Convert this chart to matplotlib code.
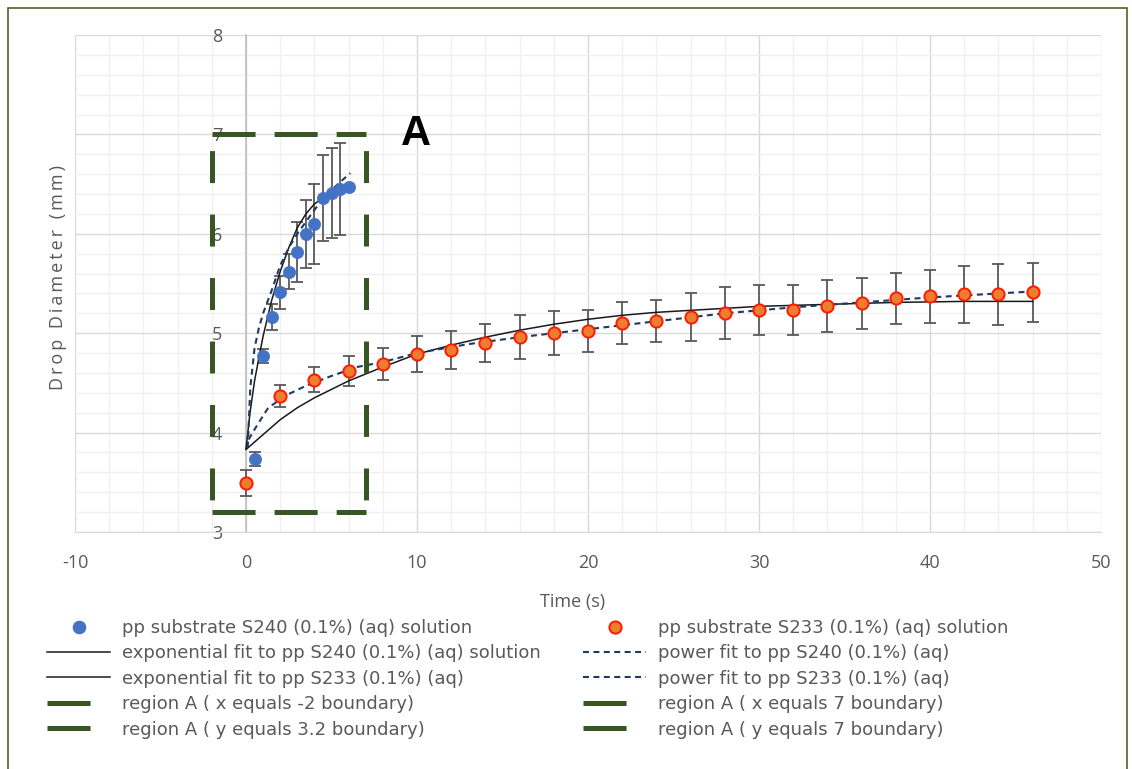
import matplotlib
matplotlib.use("Agg")
import matplotlib.pyplot as plt
from matplotlib.ticker import MultipleLocator
from matplotlib.lines import Line2D
from matplotlib.patches import Rectangle

plt.rcParams['font.family'] = ['Open Sans', 'DejaVu Sans']
plt.rcParams['lines.scale_dashes'] = False
plt.rcParams['axes.unicode_minus'] = False

# ---- measured drop diameters -------------------------------------------
time_s240 = [0.5, 1.0, 1.5, 2.0, 2.5, 3.0, 3.5, 4.0, 4.5, 5.0, 5.5, 6.0]
diam_s240 = [3.73, 4.77, 5.16, 5.41, 5.62, 5.82, 6.00, 6.10, 6.36, 6.41, 6.45, 6.47]
err_s240 = [0.07, 0.07, 0.13, 0.17, 0.18, 0.30, 0.34, 0.40, 0.43, 0.45, 0.46, 0.0]

time_s233 = [0, 2, 4, 6, 8, 10, 12, 14, 16, 18, 20, 22,
             24, 26, 28, 30, 32, 34, 36, 38, 40, 42, 44, 46]
diam_s233 = [3.49, 4.37, 4.53, 4.62, 4.69, 4.79, 4.83, 4.905, 4.96, 5.005, 5.02, 5.105,
             5.12, 5.16, 5.20, 5.233, 5.233, 5.277, 5.30, 5.35, 5.37, 5.39, 5.39, 5.41]
err_s233 = [0.13, 0.11, 0.125, 0.15, 0.16, 0.18, 0.19, 0.19, 0.22, 0.22, 0.21, 0.21,
            0.21, 0.24, 0.26, 0.25, 0.25, 0.26, 0.255, 0.26, 0.27, 0.29, 0.31, 0.30]

# ---- fitted curves ------------------------------------------------------
exp_s240_t = [0, 0.25, 0.5, 0.75, 1.0, 1.5, 2.0, 2.5, 3.0, 3.5, 4.0, 5.0, 6.0]
exp_s240_d = [3.84, 4.22, 4.52, 4.75, 4.97, 5.33, 5.62, 5.86, 6.06, 6.20, 6.30, 6.42, 6.50]

pow_s240_t = [0.1, 0.25, 0.5, 0.75, 1.0, 1.5, 2.0, 2.5, 3.0, 3.5, 4.0, 4.5, 5.0, 5.5, 6.1]
pow_s240_d = [3.85, 4.45, 4.85, 5.05, 5.20, 5.43, 5.68, 5.86, 6.00, 6.12, 6.24, 6.35, 6.44, 6.52, 6.61]

exp_s233_t = [0, 1, 2, 3, 4, 6, 8, 10, 12, 14, 16, 18, 20, 22, 24, 26, 28, 30, 34, 38, 42, 46]
exp_s233_d = [3.83, 3.98, 4.13, 4.25, 4.35, 4.52, 4.66, 4.79, 4.88, 4.96, 5.03, 5.09,
              5.14, 5.18, 5.21, 5.23, 5.25, 5.27, 5.29, 5.31, 5.32, 5.32]

pow_s233_t = [0.15, 0.6, 1.3, 2.4, 3.5, 5, 6.5, 8, 10, 13, 16, 20, 24, 28, 32, 36, 40, 46]
pow_s233_d = [3.93, 4.06, 4.25, 4.38, 4.47, 4.57, 4.66, 4.71, 4.80, 4.89, 4.96, 5.04,
              5.12, 5.20, 5.26, 5.31, 5.36, 5.42]

# ---- region A boundaries ------------------------------------------------
region_x = [-2, 7]
region_y = [3.2, 7]

labels = [
    "pp substrate S240 (0.1%) (aq) solution",
    "pp substrate S233 (0.1%) (aq) solution",
    "exponential fit to pp S240 (0.1%) (aq) solution",
    "power fit to pp S240 (0.1%) (aq)",
    "exponential fit to pp S233 (0.1%) (aq)",
    "power fit to pp S233 (0.1%) (aq)",
    "region A ( x equals -2 boundary)",
    "region A ( x equals 7 boundary)",
    "region A ( y equals 3.2 boundary)",
    "region A ( y equals 7 boundary)",
]
x_title = "Time (s)"
y_title = "Drop Diameter (mm)"

TEXT = '#595959'
BLUE = '#4472C4'
ORANGE = '#ED7D31'
RED_EDGE = '#FF1A00'
NAVY = '#203864'
GREEN = '#375623'
FIT_BLACK = '#1A1A1A'
W, H = 1132, 769
FS = 13


def spaced(s, gap='\u2009'):
    """Open up the letter spacing of a piece of text."""
    return gap.join(s)


fig = plt.figure(figsize=(W / 100, H / 100), dpi=100)
ax = fig.add_axes([75 / W, 1 - 532 / H, (1101 - 75) / W, (532 - 35) / H])
ax.set_xlim(-10, 50)
ax.set_ylim(3, 8)

ax.xaxis.set_major_locator(MultipleLocator(10))
ax.xaxis.set_minor_locator(MultipleLocator(2))
ax.yaxis.set_major_locator(MultipleLocator(1))
ax.yaxis.set_minor_locator(MultipleLocator(0.2))
ax.grid(which='minor', color='#F0F0F0', lw=1.0, zorder=0)
ax.grid(which='major', color='#D9D9D9', lw=1.0, zorder=0)
ax.set_axisbelow(True)

for s in ('top', 'right'):
    ax.spines[s].set_visible(False)
ax.spines['left'].set_position(('data', 0))
ax.spines['left'].set_color('#BFBFBF')
ax.spines['left'].set_linewidth(1.2)
ax.spines['bottom'].set_color('#D9D9D9')
ax.tick_params(which='both', length=0, colors=TEXT, labelsize=FS,
               labelfontfamily='Open Sans')
ax.tick_params(axis='x', pad=16)
ax.tick_params(axis='y', pad=17)

# error bars
ebar_kw = dict(fmt='none', ecolor='#595959', elinewidth=1.3, capsize=4.6,
               capthick=1.3, zorder=3)
ax.errorbar(time_s240, diam_s240, yerr=err_s240, **ebar_kw)
ax.errorbar(time_s233, diam_s233, yerr=err_s233, **ebar_kw)

# fitted curves
dash_fit = (0, (4.3, 3.2))
ax.plot(exp_s240_t, exp_s240_d, color=FIT_BLACK, lw=1.1, zorder=4)
ax.plot(pow_s240_t, pow_s240_d, color=NAVY, lw=1.5, ls=dash_fit, zorder=4)
ax.plot(exp_s233_t, exp_s233_d, color=FIT_BLACK, lw=1.1, zorder=4)
ax.plot(pow_s233_t, pow_s233_d, color=NAVY, lw=1.5, ls=dash_fit, zorder=4)

# measured points
ax.plot(time_s240, diam_s240, 'o', ms=8.8, mfc=BLUE, mec=BLUE, mew=0.5, zorder=5)
ax.plot(time_s233, diam_s233, 'o', ms=8.8, mfc=ORANGE, mec=RED_EDGE, mew=1.4, zorder=5)

# region A rectangle
vert_ls = (37, (23, 22.7))
horz_ls = (0, (31, 13.7))
for xv in region_x:
    ax.plot([xv, xv], region_y, color=GREEN, lw=3.6, ls=vert_ls,
            dash_capstyle='butt', zorder=6)
for yv in region_y:
    ax.plot(region_x, [yv, yv], color=GREEN, lw=3.6, ls=horz_ls,
            dash_capstyle='butt', zorder=6)

ax.text(9.95, 7.0, 'A', fontsize=30, fontweight='bold', color='black',
        family='Liberation Sans', ha='center', va='center', zorder=7)

fig.text(573 / W, 1 - 602 / H, x_title, fontsize=FS, color=TEXT,
         family='Open Sans', ha='center', va='center')
fig.text(58 / W, 1 - 277 / H, spaced(y_title), fontsize=FS, color=TEXT,
         ha='center', va='center', rotation=90)

# legend: two columns, each anchored at its own position
h_pts240 = Line2D([], [], ls='none', marker='o', ms=8.8, mfc=BLUE, mec=BLUE)
h_pts233 = Line2D([], [], ls='none', marker='o', ms=8.8, mfc=ORANGE, mec=RED_EDGE, mew=1.4)
h_exp = Line2D([], [], color=FIT_BLACK, lw=1.1)
h_pow = Line2D([], [], color=NAVY, lw=1.5, ls=dash_fit)
h_reg = Line2D([], [], color=GREEN, lw=3.6, ls=(0, (31, 40)), dash_capstyle='butt')

leg_kw = dict(loc='upper left', frameon=False, labelcolor=TEXT,
              prop={'family': 'DejaVu Sans', 'size': FS},
              borderpad=0, borderaxespad=0, handlelength=3.5,
              handletextpad=0.65, labelspacing=0.41)
col1 = [labels[0], labels[2], labels[4], labels[6], labels[8]]
col2 = [labels[1], labels[3], labels[5], labels[7], labels[9]]
leg1 = fig.legend([h_pts240, h_exp, h_exp, h_reg, h_reg], col1,
                  bbox_to_anchor=(47 / W, 1 - 619 / H), **leg_kw)
leg2 = fig.legend([h_pts233, h_pow, h_pow, h_reg, h_reg], col2,
                  bbox_to_anchor=(583 / W, 1 - 619 / H), **leg_kw)

# chart area border
fig.patches.append(Rectangle((8 / W, -0.01), (1127 - 8) / W, 1 - 8 / H + 0.01,
                             transform=fig.transFigure, fill=False,
                             edgecolor='#4F6228', lw=1.2))

fig.savefig('out.png', dpi=100)
